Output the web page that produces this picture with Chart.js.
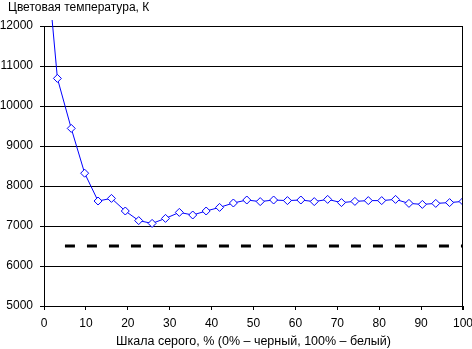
<!DOCTYPE html>
<html>
<head>
<meta charset="utf-8">
<script src="https://cdn.jsdelivr.net/npm/chart.js@4.4.1/dist/chart.umd.min.js"></script>
<style>
  html, body { margin: 0; padding: 0; background: #fff; }
  #wrap { width: 472px; height: 349px; }
</style>
</head>
<body>
<div id="wrap"><canvas id="c"></canvas></div>
<script>
// шкала серого, %
const grayLevels = [0, 3.2, 6.5, 9.7, 12.9, 16.1, 19.4, 22.6, 25.8, 29.0, 32.3, 35.5, 38.7, 41.9, 45.2, 48.4,
                    51.6, 54.8, 58.1, 61.3, 64.5, 67.7, 71.0, 74.2, 77.4, 80.6, 83.9, 87.1, 90.3, 93.5, 96.8, 100];
// цветовая температура, K
const colorTemp = [14400, 10690, 9440, 8320, 7625, 7690, 7375, 7135, 7065, 7190, 7340, 7275, 7375, 7465, 7575, 7650,
                   7610, 7650, 7635, 7650, 7610, 7665, 7585, 7615, 7635, 7635, 7665, 7565, 7540, 7565, 7585, 7615];
// эталон 6500 K
const refX = [5, 100];
const refTemp = [6500, 6500];

const yTicks = [5000, 6000, 7000, 8000, 9000, 10000, 11000, 12000];
const xTicks = [0, 10, 20, 30, 40, 50, 60, 70, 80, 90, 100];

const FONT = 'Liberation Sans, Arial, sans-serif';

Chart.register({
    id: 'frameAndTitle',
    afterDraw(chart) {
        const ctx = chart.ctx;
        const a = chart.chartArea;
        ctx.save();
        // правая граница области графика
        ctx.setLineDash([]);
        ctx.fillStyle = '#000';
        ctx.fillRect(Math.round(a.right) - 1, Math.round(a.top), 1, Math.round(a.bottom - a.top) + 4);

        ctx.font = '12px ' + FONT;
        ctx.textAlign = 'left';
        ctx.textBaseline = 'alphabetic';
        ctx.fillText('Цветовая температура, К', 8, 11);
        ctx.restore();
    }
});

const ctx = document.getElementById('c').getContext('2d');
const myChart = new Chart(ctx, {
    type: 'line',
    data: {
        datasets: [{
            data: grayLevels.map((x, i) => ({ x: x, y: colorTemp[i] })),
            borderColor: '#0000FF',
            borderWidth: 1,
            pointStyle: 'rectRot',
            pointRadius: 4,
            pointBorderColor: '#0000FF',
            pointBackgroundColor: '#FFFFFF',
            pointBorderWidth: 1,
            tension: 0,
            clip: { left: 0, top: 6, right: 0, bottom: 0 }
        }, {
            data: refX.map((x, i) => ({ x: x, y: refTemp[i] })),
            borderColor: '#000000',
            borderWidth: 3,
            borderDash: [10, 12],
            pointRadius: 0,
            tension: 0
        }]
    },
    options: {
        responsive: true,
        maintainAspectRatio: false,
        animation: false,
        layout: { padding: { top: 26, right: 9, bottom: 0, left: 0 } },
        plugins: {
            legend: { display: false },
            tooltip: { enabled: false }
        },
        scales: {
            x: {
                type: 'linear',
                min: 0,
                max: 100,
                afterBuildTicks(axis) { axis.ticks = xTicks.map(v => ({ value: v })); },
                afterFit(axis) { axis.height = 43; axis.paddingLeft = 0; axis.paddingRight = 0; },
                grid: { drawOnChartArea: false, drawTicks: true, tickLength: 4, color: '#000' },
                border: { color: '#000', width: 1 },
                ticks: { color: '#000', font: { family: FONT, size: 12 }, padding: 6, maxRotation: 0 },
                title: {
                    display: true,
                    text: 'Шкала серого, % (0% – черный, 100% – белый)',
                    color: '#000',
                    font: { family: FONT, size: 12.5 },
                    padding: { top: 0, bottom: 0 }
                }
            },
            y: {
                min: 5000,
                max: 12000,
                afterBuildTicks(axis) { axis.ticks = yTicks.map(v => ({ value: v })); },
                afterFit(axis) { axis.width = 44; axis.paddingTop = 0; axis.paddingBottom = 0; },
                grid: { color: '#000', lineWidth: 1, drawTicks: true, tickLength: 4 },
                border: { color: '#000', width: 1 },
                ticks: {
                    color: '#000',
                    font: { family: FONT, size: 12 },
                    padding: 7,
                    callback: v => String(v)
                }
            }
        }
    }
});
</script>
</body>
</html>
